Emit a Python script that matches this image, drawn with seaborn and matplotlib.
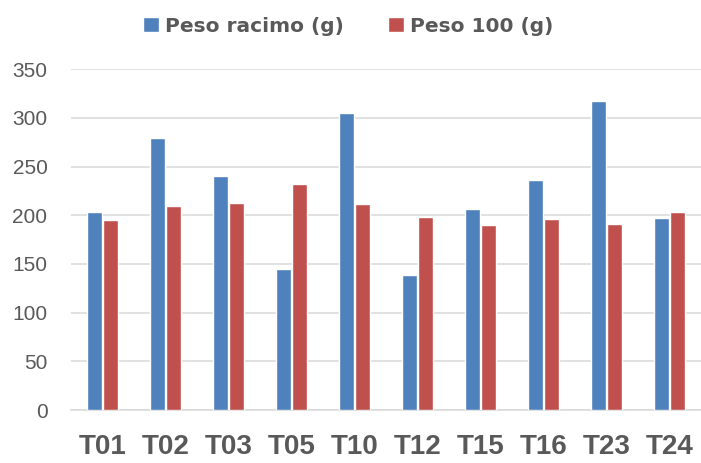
import numpy as np
import pandas as pd
import seaborn as sns
import matplotlib.pyplot as plt

# values
tratamientos = ['T01', 'T02', 'T03', 'T05', 'T10', 'T12', 'T15', 'T16', 'T23', 'T24']
peso_racimo = [203, 279, 240, 145, 305, 139, 206, 236, 317, 197]
peso_100 = [195, 210, 213, 232, 212, 198, 190, 196, 191, 203]
series = ['Peso racimo (g)', 'Peso 100 (g)']
colores = ['#4F81BD', '#C0504D']

df = pd.DataFrame({'trat': tratamientos, series[0]: peso_racimo, series[1]: peso_100})
df_long = df.melt(id_vars='trat', var_name='serie', value_name='valor')

sns.set_theme(style='white')
plt.rcParams['font.family'] = ['Liberation Sans', 'DejaVu Sans']

fig = plt.figure(figsize=(7.01, 4.63), dpi=100)
ax = fig.add_axes([71 / 701, 1 - 410 / 463, 630 / 701, (410 - 69.3) / 463])

sns.barplot(data=df_long, x='trat', y='valor', hue='serie', hue_order=series,
            palette=colores, width=0.51, gap=0.115, saturation=1, ax=ax, zorder=3)

# axis styling, excel look
ax.set_ylim(0, 350)
ax.set_xlim(-0.5, len(tratamientos) - 0.5)
ax.set_yticks(np.arange(0, 351, 50))
ax.yaxis.grid(True, color='#D9D9D9', linewidth=1.1, zorder=0)
ax.set_axisbelow(True)
for s in ['top', 'right', 'left']:
    ax.spines[s].set_visible(False)
ax.spines['bottom'].set_color('#D9D9D9')
ax.spines['bottom'].set_linewidth(1.1)
ax.set_xlabel('')
ax.set_ylabel('')
ax.tick_params(axis='y', length=0, pad=17, labelsize=15, labelcolor='#595959')
ax.tick_params(axis='x', length=0, pad=17, labelsize=20, labelcolor='#595959')
for lbl in ax.get_xticklabels():
    lbl.set_fontweight('bold')

# legend on top
handles, labels = ax.get_legend_handles_labels()
ax.get_legend().remove()
fig.legend(handles, labels, loc='center', bbox_to_anchor=(348 / 701, 1 - 26 / 463),
           ncol=2, frameon=False, handlelength=0.8, handleheight=0.8,
           handletextpad=0.3, columnspacing=2.2,
           prop={'family': 'DejaVu Sans', 'weight': 'bold', 'size': 14.5},
           labelcolor='#595959')

plt.savefig('out.png', dpi=100)
